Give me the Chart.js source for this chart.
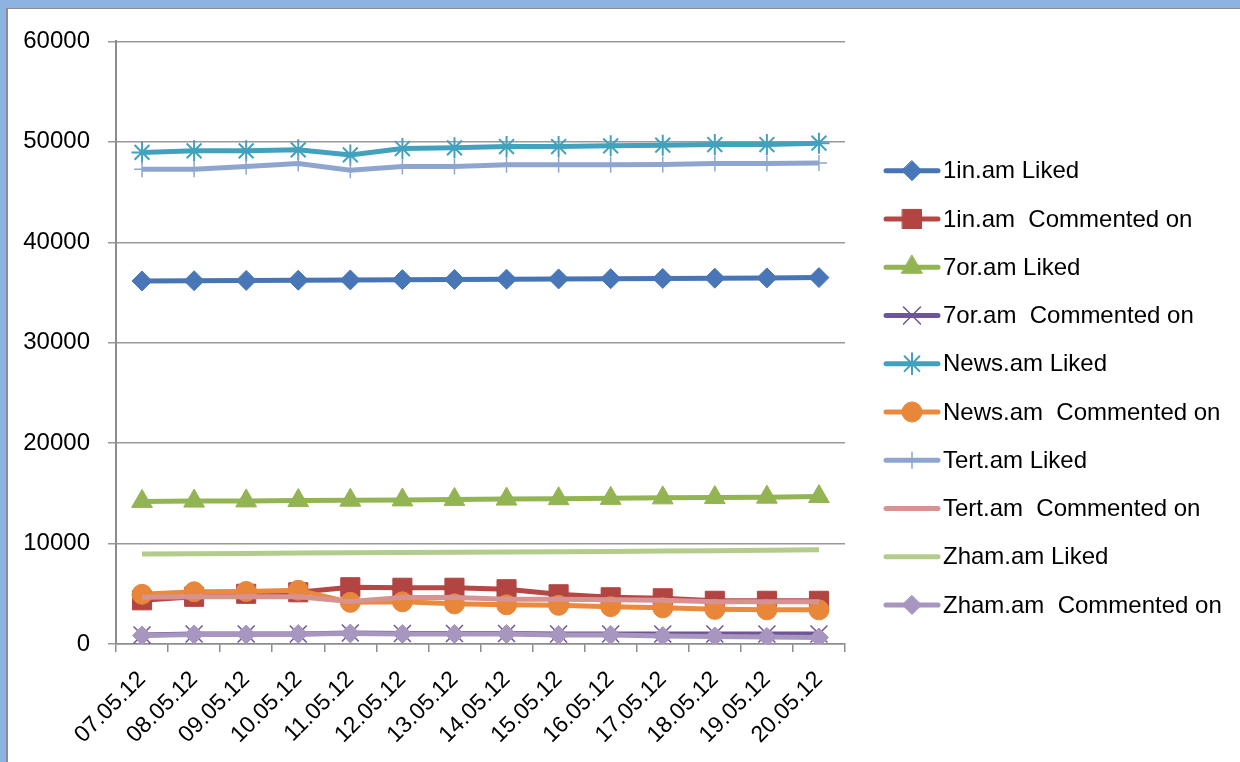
<!DOCTYPE html>
<html><head><meta charset="utf-8">
<script src="https://cdn.jsdelivr.net/npm/chart.js@4.4.0/dist/chart.umd.min.js"></script>
<style>
html,body{margin:0;padding:0;background:#8db3e2;width:1240px;height:762px;overflow:hidden}
#panel{position:absolute;left:6px;top:8px;width:1240px;height:760px;background:#fff;border-top:1px solid #8c8c8c;border-left:2px solid #8c8c8c}
#c{position:absolute;left:0;top:0}
</style></head><body>
<div id="panel"><canvas id="c" width="1232" height="753"></canvas></div>
<script>
const dates = ['07.05.12','08.05.12','09.05.12','10.05.12','11.05.12','12.05.12','13.05.12','14.05.12','15.05.12','16.05.12','17.05.12','18.05.12','19.05.12','20.05.12'];
const yTicks = [0,10000,20000,30000,40000,50000,60000];
const seriesNames = ['1in.am Liked','1in.am  Commented on','7or.am Liked','7or.am  Commented on','News.am Liked','News.am  Commented on','Tert.am Liked','Tert.am  Commented on','Zham.am Liked','Zham.am  Commented on'];
const in1Liked     = [36150,36170,36200,36220,36250,36280,36300,36320,36350,36370,36400,36420,36450,36480];
const in1Commented = [4350,4700,5000,5150,5650,5600,5600,5450,4950,4650,4550,4300,4300,4300];
const or7Liked     = [14200,14230,14250,14280,14320,14350,14400,14430,14470,14500,14550,14580,14620,14680];
const or7Commented = [900,1000,1000,1000,1100,1050,1050,1050,1000,1000,1000,1000,1000,1000];
const newsLiked    = [48950,49100,49100,49200,48700,49330,49400,49530,49530,49600,49670,49730,49730,49870];
const newsCommented= [4950,5200,5230,5350,4150,4200,4000,3900,3850,3720,3600,3450,3400,3400];
const tertLiked    = [47280,47280,47550,47840,47180,47550,47550,47710,47710,47710,47740,47840,47840,47900];
const tertCommented= [4650,4700,4700,4700,4230,4630,4630,4460,4460,4400,4350,4200,4200,4200];
const zhamLiked    = [8950,8980,9010,9050,9080,9100,9130,9150,9180,9220,9260,9290,9330,9380];
const zhamCommented= [850,950,950,1000,1050,1000,1000,1000,900,900,800,750,700,650];

const allValues = [in1Liked,in1Commented,or7Liked,or7Commented,newsLiked,newsCommented,tertLiked,tertCommented,zhamLiked,zhamCommented];
const styles = [
  {line:'#4674b4', fill:'#4876b6', shape:'rectRot', r:10, bw:1},
  {line:'#b54744', fill:'#b24441', shape:'rect', r:13.5, bw:1},
  {line:'#93b452', fill:'#93b452', shape:'triangle', r:12, bw:1},
  {line:'#6f5497', fill:'#6f5497', shape:'crossRot', r:12, bw:1.5},
  {line:'#42a2bd', fill:'#42a2bd', shape:'star', r:10.5, bw:2},
  {line:'#eb8a3c', fill:'#e8873a', shape:'circle', r:10, bw:1},
  {line:'#8ea6cf', fill:'#8ea6cf', shape:'cross', r:8, bw:1.5},
  {line:'#d79392', fill:'#d79392', shape:false, r:0, bw:0},
  {line:'#b3cc8c', fill:'#b3cc8c', shape:false, r:0, bw:0},
  {line:'#a796c0', fill:'#a796c0', shape:'rectRot', r:9.5, bw:1}
];

const datasets = allValues.map((vals,i)=>({
  label: seriesNames[i],
  data: vals,
  borderColor: styles[i].line,
  borderWidth: 5,
  backgroundColor: styles[i].fill,
  pointStyle: styles[i].shape,
  pointRadius: styles[i].r,
  pointHoverRadius: styles[i].r,
  pointBackgroundColor: styles[i].fill,
  pointBorderColor: styles[i].fill,
  pointBorderWidth: styles[i].bw,
  tension: 0,
  fill: false,
  order: 9 - i
}));

function drawMarker(ctx, s, x, y){
  if(!s.shape) return;
  const r = s.r;
  ctx.save();
  ctx.fillStyle = s.fill; ctx.strokeStyle = s.fill; ctx.lineWidth = s.bw;
  ctx.beginPath();
  switch(s.shape){
    case 'rectRot':
      ctx.moveTo(x, y-r); ctx.lineTo(x+r, y); ctx.lineTo(x, y+r); ctx.lineTo(x-r, y); ctx.closePath();
      ctx.fill(); ctx.stroke(); break;
    case 'rect': {
      const h = Math.SQRT1_2*r; ctx.rect(x-h, y-h, 2*h, 2*h); ctx.fill(); ctx.stroke(); break; }
    case 'triangle': {
      const a = r*Math.sin(Math.PI/3);
      ctx.moveTo(x, y-r); ctx.lineTo(x+a, y+r/2); ctx.lineTo(x-a, y+r/2); ctx.closePath(); ctx.fill(); ctx.stroke(); break; }
    case 'circle':
      ctx.arc(x, y, r, 0, Math.PI*2); ctx.fill(); ctx.stroke(); break;
    case 'crossRot': {
      const d = r*Math.SQRT1_2;
      ctx.moveTo(x-d,y-d); ctx.lineTo(x+d,y+d); ctx.moveTo(x+d,y-d); ctx.lineTo(x-d,y+d); ctx.stroke(); break; }
    case 'cross':
      ctx.moveTo(x,y-r); ctx.lineTo(x,y+r); ctx.moveTo(x-r,y); ctx.lineTo(x+r,y); ctx.stroke(); break;
    case 'star': {
      const d = r*Math.SQRT1_2;
      ctx.moveTo(x,y-r); ctx.lineTo(x,y+r); ctx.moveTo(x-r,y); ctx.lineTo(x+r,y);
      ctx.moveTo(x-d,y-d); ctx.lineTo(x+d,y+d); ctx.moveTo(x+d,y-d); ctx.lineTo(x-d,y+d); ctx.stroke(); break; }
  }
  ctx.restore();
}

const legendPlugin = {
  id: 'customLegend',
  afterDraw(chart){
    const ctx = chart.ctx;
    ctx.save();
    chart.data.datasets.forEach((ds,i)=>{
      const y = 161.7 + i*48.26;
      ctx.strokeStyle = styles[i].line; ctx.lineWidth = 5; ctx.lineCap = 'round';
      ctx.beginPath(); ctx.moveTo(878, y); ctx.lineTo(930, y); ctx.stroke();
      drawMarker(ctx, styles[i], 904, y);
      ctx.fillStyle = '#000'; ctx.font = '24px "Liberation Sans", Arial, sans-serif';
      ctx.textBaseline = 'middle'; ctx.textAlign = 'left';
      ctx.fillText(ds.label, 935, y+1);
    });
    ctx.restore();
  }
};

new Chart(document.getElementById('c'), {
  type: 'line',
  data: { labels: dates, datasets },
  options: {
    responsive: false,
    animation: false,
    devicePixelRatio: 1,
    layout: { padding: { left: 0, right: 395, top: 30, bottom: 0 } },
    plugins: { legend: { display: false }, tooltip: { enabled: false } },
    scales: {
      x: {
        offset: true,
        grid: { display: true, drawOnChartArea: false, drawTicks: true, tickLength: 8, offset: true, color: '#8c8c8c', lineWidth: 1.5 },
        border: { display: true, color: '#8c8c8c', width: 1.5 },
        ticks: { minRotation: 45, maxRotation: 45, autoSkip: false, color: '#000', padding: 14,
                 font: { family: '"Liberation Sans", Arial, sans-serif', size: 23 } },
        afterFit(scale){ scale.height = 118; }
      },
      y: {
        min: 0, max: 60000,
        afterBuildTicks(scale){ scale.ticks = yTicks.map(v=>({value:v})); },
        grid: { color: '#999999', lineWidth: 1.5, tickLength: 8, drawTicks: true },
        border: { display: true, color: '#8c8c8c', width: 2 },
        ticks: { color: '#000', padding: 18, callback: v => String(v),
                 font: { family: '"Liberation Sans", Arial, sans-serif', size: 24 } },
        afterFit(scale){ scale.width = 108; }
      }
    }
  },
  plugins: [legendPlugin]
});
</script>
</body></html>
